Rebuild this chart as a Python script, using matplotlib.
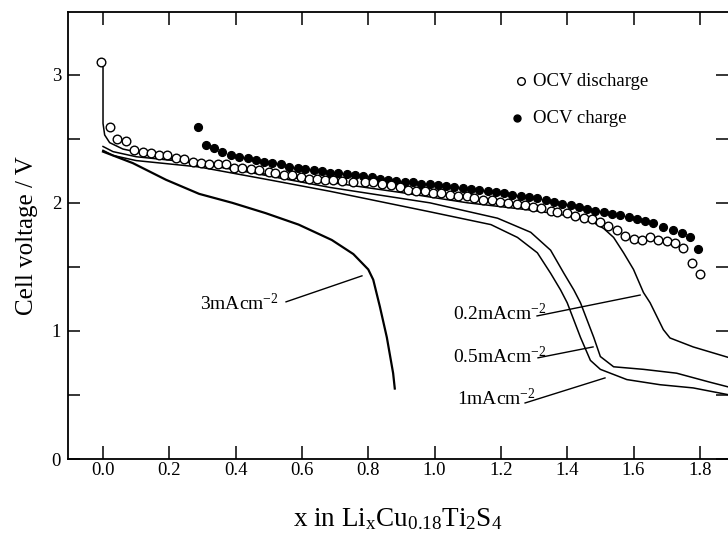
import matplotlib
matplotlib.use('Agg')
import matplotlib.pyplot as plt
from matplotlib.ticker import MultipleLocator, FormatStrFormatter

plt.rcParams['font.family'] = ['Liberation Serif', 'DejaVu Serif']
plt.rcParams['mathtext.fontset'] = 'custom'
plt.rcParams['mathtext.rm'] = 'Liberation Serif'
plt.rcParams['mathtext.it'] = 'Liberation Serif:italic'

# OCV discharge (open circles)
ocv_dis_x = [-0.005, 0.02, 0.042, 0.07, 0.094, 0.12, 0.145, 0.17, 0.193, 0.22, 0.244, 0.27,
             0.296, 0.32, 0.347, 0.37, 0.395, 0.42, 0.447, 0.47, 0.50, 0.52, 0.546, 0.57,
             0.597, 0.62, 0.645, 0.67, 0.695, 0.72, 0.755, 0.79, 0.815, 0.84, 0.87, 0.896,
             0.92, 0.945, 0.97, 0.996, 1.02, 1.047, 1.07, 1.098, 1.12, 1.147, 1.173, 1.198,
             1.22, 1.25, 1.273, 1.297, 1.32, 1.35, 1.37, 1.40, 1.424, 1.45, 1.475, 1.50,
             1.524, 1.55, 1.575, 1.60, 1.625, 1.65, 1.675, 1.70, 1.725, 1.75, 1.777, 1.80]
ocv_dis_v = [3.10, 2.59, 2.50, 2.48, 2.41, 2.40, 2.39, 2.375, 2.37, 2.35, 2.34, 2.32,
             2.31, 2.30, 2.30, 2.30, 2.27, 2.27, 2.265, 2.26, 2.24, 2.23, 2.22, 2.22,
             2.20, 2.19, 2.19, 2.18, 2.18, 2.17, 2.16, 2.16, 2.16, 2.15, 2.14, 2.12,
             2.10, 2.09, 2.09, 2.08, 2.08, 2.06, 2.05, 2.05, 2.04, 2.02, 2.02, 2.01,
             2.00, 1.99, 1.98, 1.97, 1.96, 1.94, 1.93, 1.92, 1.90, 1.88, 1.87, 1.85,
             1.82, 1.79, 1.74, 1.72, 1.71, 1.73, 1.71, 1.70, 1.69, 1.65, 1.53, 1.445]

# OCV charge (filled circles)
ocv_chg_x = [0.287, 0.311, 0.335, 0.36, 0.386, 0.41, 0.437, 0.46, 0.486, 0.51, 0.537, 0.56,
             0.588, 0.61, 0.635, 0.66, 0.685, 0.71, 0.735, 0.76, 0.785, 0.81, 0.835, 0.86,
             0.885, 0.91, 0.935, 0.96, 0.985, 1.01, 1.035, 1.06, 1.085, 1.11, 1.135, 1.16,
             1.185, 1.21, 1.235, 1.26, 1.285, 1.31, 1.335, 1.36, 1.385, 1.41, 1.435, 1.46,
             1.485, 1.51, 1.535, 1.56, 1.585, 1.61, 1.635, 1.66, 1.69, 1.72, 1.745, 1.77, 1.795]
ocv_chg_v = [2.59, 2.45, 2.43, 2.40, 2.375, 2.36, 2.35, 2.335, 2.32, 2.31, 2.30, 2.28,
             2.27, 2.265, 2.255, 2.245, 2.235, 2.23, 2.225, 2.22, 2.21, 2.20, 2.19, 2.18,
             2.17, 2.165, 2.16, 2.15, 2.145, 2.14, 2.13, 2.125, 2.115, 2.11, 2.10, 2.09,
             2.085, 2.075, 2.065, 2.055, 2.045, 2.035, 2.02, 2.005, 1.99, 1.98, 1.97, 1.955,
             1.94, 1.93, 1.915, 1.905, 1.89, 1.875, 1.86, 1.84, 1.81, 1.79, 1.765, 1.73, 1.64]

# discharge curves at constant current
c02_x = [0.0, 0.0, 0.005, 0.02, 0.06, 0.15, 0.3, 0.5, 0.685, 0.9, 1.1, 1.3, 1.40, 1.47,
         1.51, 1.54, 1.57, 1.60, 1.63, 1.65, 1.69, 1.71, 1.78, 1.89]
c02_v = [3.10, 2.62, 2.53, 2.47, 2.42, 2.37, 2.30, 2.22, 2.16, 2.08, 2.00, 1.94, 1.90, 1.86,
         1.80, 1.73, 1.61, 1.48, 1.30, 1.22, 1.01, 0.945, 0.875, 0.79]

c05_x = [0.0, 0.03, 0.1, 0.29, 0.5, 0.685, 0.986, 1.19, 1.29, 1.35, 1.39, 1.42, 1.44,
         1.48, 1.50, 1.54, 1.63, 1.73, 1.83, 1.89]
c05_v = [2.44, 2.40, 2.36, 2.31, 2.21, 2.12, 2.00, 1.88, 1.77, 1.63, 1.45, 1.32, 1.22,
         0.95, 0.80, 0.72, 0.70, 0.67, 0.60, 0.56]

c1_x = [0.0, 0.03, 0.1, 0.29, 0.5, 0.685, 0.986, 1.17, 1.25, 1.31, 1.35, 1.38, 1.40,
        1.44, 1.47, 1.50, 1.58, 1.68, 1.78, 1.89]
c1_v = [2.41, 2.37, 2.33, 2.28, 2.18, 2.09, 1.93, 1.83, 1.73, 1.61, 1.45, 1.32, 1.22,
        0.95, 0.77, 0.70, 0.62, 0.58, 0.555, 0.50]

c3_x = [0.0, 0.09, 0.19, 0.29, 0.39, 0.49, 0.59, 0.69, 0.755, 0.80, 0.815, 0.835, 0.856,
        0.875, 0.88]
c3_v = [2.40, 2.31, 2.18, 2.07, 2.00, 1.92, 1.83, 1.71, 1.60, 1.48, 1.40, 1.19, 0.95,
        0.67, 0.55]

# label text, text anchor, and leader line ends
curve_labels = ['3mAcm$^{-2}$', '0.2mAcm$^{-2}$', '0.5mAcm$^{-2}$', '1mAcm$^{-2}$']
label_pos = [(0.293, 1.164), (1.056, 1.086), (1.056, 0.75), (1.068, 0.42)]
leader_from = [(0.552, 1.227), (1.309, 1.117), (1.312, 0.79), (1.273, 0.4375)]
leader_to = [(0.781, 1.43), (1.62, 1.28), (1.478, 0.875), (1.514, 0.633)]

fig = plt.figure(figsize=(7.28, 5.35), dpi=100)
ax = fig.add_axes([68 / 728, 76 / 535, 660 / 728, 447 / 535])

ax.plot(c02_x, c02_v, color='black', lw=1.1, zorder=2)
ax.plot(c05_x, c05_v, color='black', lw=1.1, zorder=2)
ax.plot(c1_x, c1_v, color='black', lw=1.1, zorder=2)
ax.plot(c3_x, c3_v, color='black', lw=1.6, zorder=2)

ax.plot(ocv_chg_x, ocv_chg_v, 'o', color='black', ms=5.6, zorder=3)
ax.plot(ocv_dis_x, ocv_dis_v, 'o', mfc='white', mec='black', mew=1.0, ms=6.2, zorder=4)

for txt, (tx, ty), (x0, y0), (x1, y1) in zip(curve_labels, label_pos, leader_from, leader_to):
    ax.text(tx, ty, txt, fontsize=14, va='baseline', ha='left')
    ax.plot([x0, x1], [y0, y1], color='black', lw=1.0)

# legend drawn by hand
ax.plot([1.261], [2.953], 'o', mfc='white', mec='black', mew=1.0, ms=5.5)
ax.text(1.297, 2.914, 'OCV discharge', fontsize=13.5, va='baseline')
ax.plot([1.249], [2.66], 'o', color='black', ms=5.0)
ax.text(1.297, 2.625, 'OCV charge', fontsize=13.5, va='baseline')

ax.set_xlim(-0.1056, 1.885)
ax.set_ylim(0, 3.49)

ax.xaxis.set_major_locator(MultipleLocator(0.2))
ax.xaxis.set_major_formatter(FormatStrFormatter('%.1f'))
ax.yaxis.set_major_locator(MultipleLocator(1))
ax.yaxis.set_minor_locator(MultipleLocator(0.5))

ax.tick_params(axis='x', which='major', direction='in', top=True, length=9.5, width=1.1,
               labelsize=13.5, pad=2)
ax.tick_params(axis='y', which='both', direction='in', right=True, length=8.5, width=1.1,
               labelsize=13.5, pad=5)

for side in ['left', 'top', 'bottom']:
    ax.spines[side].set_linewidth(1.3)
ax.spines['right'].set_visible(False)

ax.set_ylabel('Cell voltage / V', fontsize=18, labelpad=10)
ax.set_xlabel(r'x in Li$_\mathrm{x}$Cu$_\mathrm{0.18}$Ti$_\mathrm{2}$S$_\mathrm{4}$',
              fontsize=19.5, labelpad=20)

fig.savefig('out.png', dpi=100)
